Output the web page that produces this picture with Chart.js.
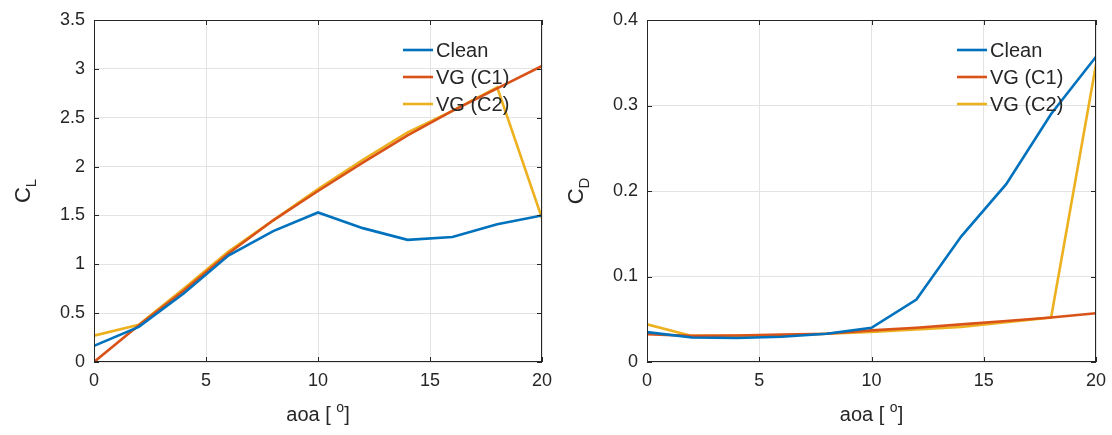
<!DOCTYPE html>
<html>
<head>
<meta charset="utf-8">
<script src="https://cdn.jsdelivr.net/npm/chart.js@4"></script>
<style>
  body { margin: 0; background: #fff; }
  .wrap { position: relative; width: 1112px; height: 435px; }
  canvas { position: absolute; top: 0; }
  #clChart { left: 0; }
  #cdChart { left: 556px; }
</style>
</head>
<body>
<div class="wrap">
  <canvas id="clChart" width="556" height="435"></canvas>
  <canvas id="cdChart" width="556" height="435"></canvas>
</div>
<script>
// angle of attack [deg]
const aoa = [0, 2, 4, 6, 8, 10, 12, 14, 16, 18, 20];

// lift coefficient
const clClean = [0.165, 0.36, 0.70, 1.09, 1.34, 1.53, 1.37, 1.25, 1.28, 1.41, 1.50];
const clVG1   = [0.0, 0.375, 0.73, 1.11, 1.45, 1.75, 2.04, 2.32, 2.57, 2.80, 3.03];
const clVG2   = [0.27, 0.38, 0.75, 1.13, 1.45, 1.77, 2.07, 2.35, 2.57, 2.81, 1.47];

// drag coefficient
const cdClean = [0.035, 0.0286, 0.028, 0.0295, 0.033, 0.040, 0.073, 0.147, 0.208, 0.290, 0.357];
const cdVG1   = [0.0325, 0.0305, 0.031, 0.032, 0.033, 0.037, 0.040, 0.044, 0.048, 0.052, 0.057];
const cdVG2   = [0.044, 0.0305, 0.0305, 0.031, 0.033, 0.035, 0.038, 0.041, 0.0466, 0.052, 0.348];

const seriesNames = ['Clean', 'VG (C1)', 'VG (C2)'];
const colors = ['#0072BD', '#D95319', '#EDB120'];
const textColor = '#262626';
const fontFamily = '"Liberation Sans", Arial, Helvetica, sans-serif';

function pts(ys) {
  return aoa.map((a, i) => ({ x: a, y: ys[i] }));
}

// box, inward ticks, axis titles and legend like matlab
function matlabPlugin(yMain, ySub) {
  return {
    id: 'matlabLook',
    afterDraw(chart) {
      const c = chart.ctx;
      const a = chart.chartArea;
      const xs = chart.scales.x, ys = chart.scales.y;
      c.save();
      c.strokeStyle = textColor;
      c.lineWidth = 1;
      c.strokeRect(a.left + 0.5, a.top + 0.5, a.right - a.left - 1, a.bottom - a.top - 1);
      const tl = 5;
      c.beginPath();
      xs.ticks.forEach(t => {
        const px = Math.round(xs.getPixelForValue(t.value)) + 0.5;
        c.moveTo(px, a.bottom); c.lineTo(px, a.bottom - tl);
        c.moveTo(px, a.top); c.lineTo(px, a.top + tl);
      });
      ys.ticks.forEach(t => {
        const py = Math.round(ys.getPixelForValue(t.value)) + 0.5;
        c.moveTo(a.left, py); c.lineTo(a.left + tl, py);
        c.moveTo(a.right, py); c.lineTo(a.right - tl, py);
      });
      c.stroke();

      // x title: aoa [ o]
      c.fillStyle = textColor;
      c.textBaseline = 'alphabetic';
      c.textAlign = 'left';
      const mid = (a.left + a.right) / 2;
      const p1 = 'aoa [ ', p3 = ']';
      c.font = '20px ' + fontFamily;
      const w1 = c.measureText(p1).width, w3 = c.measureText(p3).width;
      c.font = '14px ' + fontFamily;
      const w2 = c.measureText('o').width;
      let x0 = mid - (w1 + w2 + w3) / 2;
      const by = 421;
      c.font = '20px ' + fontFamily;
      c.fillText(p1, x0, by);
      c.font = '14px ' + fontFamily;
      c.fillText('o', x0 + w1, by - 9);
      c.font = '20px ' + fontFamily;
      c.fillText(p3, x0 + w1 + w2, by);

      // y title: C with subscript
      c.save();
      c.translate(a.left - 64, (a.top + a.bottom) / 2);
      c.rotate(-Math.PI / 2);
      c.font = '22px ' + fontFamily;
      const wc = c.measureText(yMain).width;
      c.font = '15px ' + fontFamily;
      const ws = c.measureText(ySub).width;
      c.font = '22px ' + fontFamily;
      c.fillText(yMain, -(wc + ws) / 2, 0);
      c.font = '15px ' + fontFamily;
      c.fillText(ySub, -(wc + ws) / 2 + wc, 6);
      c.restore();

      // legend inside the axes
      const lx = a.right - 139;
      c.font = '20px ' + fontFamily;
      chart.data.datasets.forEach((ds, i) => {
        const ly = a.top + 30 + i * 27;
        c.strokeStyle = ds.borderColor;
        c.lineWidth = 2.6;
        c.beginPath();
        c.moveTo(lx, ly); c.lineTo(lx + 30, ly);
        c.stroke();
        c.fillStyle = textColor;
        c.textBaseline = 'middle';
        c.fillText(ds.label, lx + 33, ly + 1);
      });
      c.restore();
    }
  };
}

function makeChart(id, series, yMax, yStep, ySub, padRight) {
  return new Chart(document.getElementById(id), {
    type: 'line',
    data: {
      datasets: series.map((s, i) => ({
        label: seriesNames[i],
        data: pts(s),
        borderColor: colors[i],
        backgroundColor: colors[i],
        borderWidth: 2.6,
        pointRadius: 0,
        tension: 0,
        fill: false
      }))
    },
    options: {
      responsive: false,
      animation: false,
      layout: { padding: { top: 20, right: padRight, left: 0, bottom: 0 } },
      plugins: { legend: { display: false }, tooltip: { enabled: false } },
      scales: {
        x: {
          type: 'linear', min: 0, max: 20,
          ticks: { stepSize: 5, color: textColor, font: { family: fontFamily, size: 18 }, padding: 8 },
          grid: { color: '#e3e3e3', drawTicks: false },
          border: { display: false },
          afterFit(s) { s.height = 73; s.paddingLeft = 0; s.paddingRight = 0; }
        },
        y: {
          min: 0, max: yMax,
          ticks: {
            stepSize: yStep, color: textColor, font: { family: fontFamily, size: 18 }, padding: 9,
            callback: v => String(+v.toFixed(2))
          },
          grid: { color: '#e3e3e3', drawTicks: false },
          border: { display: false },
          afterFit(s) { s.width = id === 'clChart' ? 94 : 91; s.paddingTop = 0; s.paddingBottom = 0; }
        }
      }
    },
    plugins: [matlabPlugin('C', ySub)]
  });
}

const clChart = makeChart('clChart', [clClean, clVG1, clVG2], 3.5, 0.5, 'L', 14);
const cdChart = makeChart('cdChart', [cdClean, cdVG1, cdVG2], 0.4, 0.1, 'D', 16);
</script>
</body>
</html>
